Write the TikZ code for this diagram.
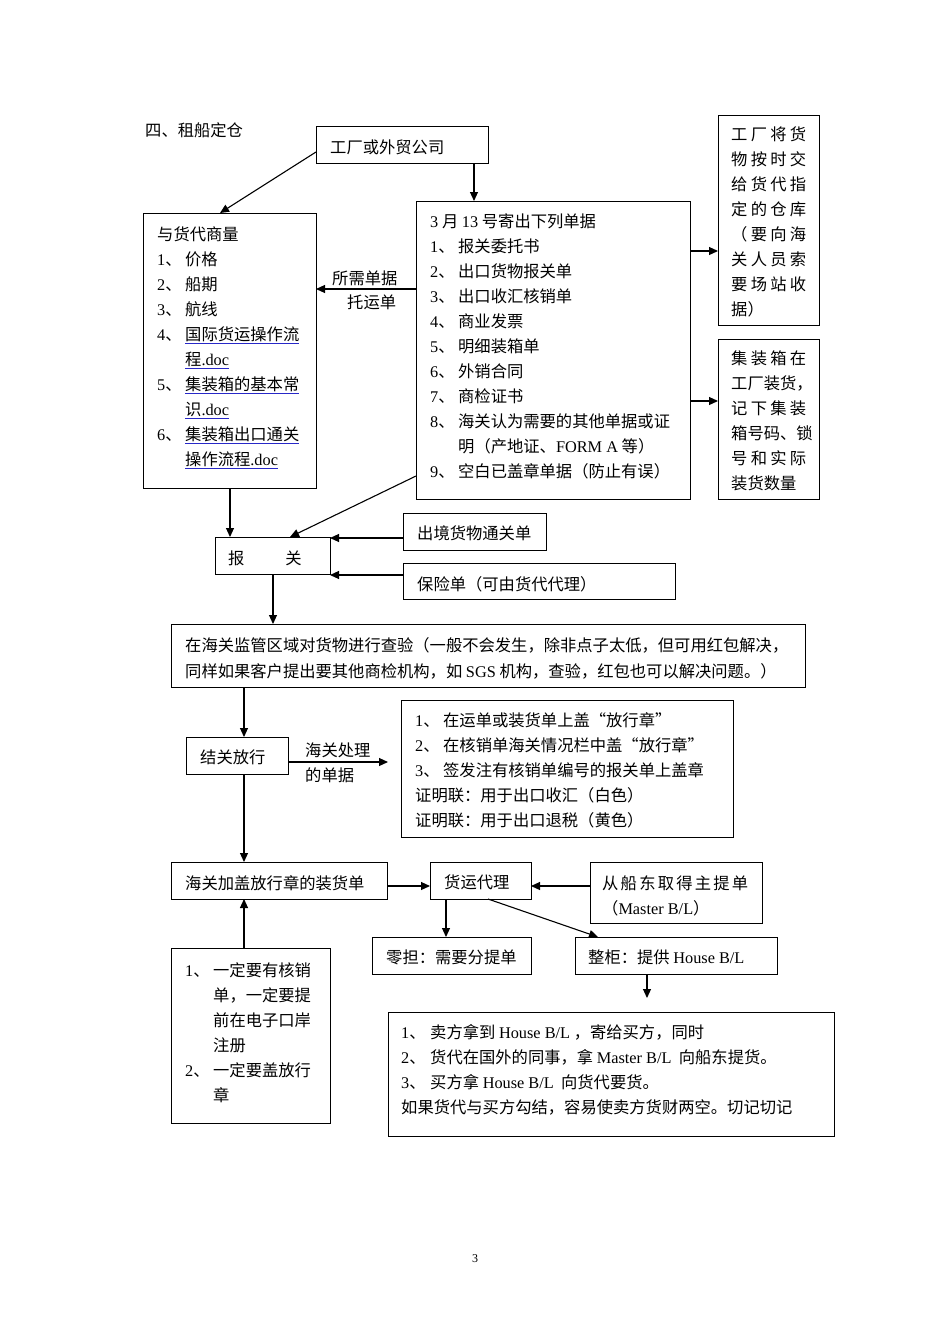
\documentclass[tikz,border=0pt]{standalone}
\usepackage{fontspec}
\setmainfont{Noto Sans CJK SC}
\newfontfamily\latf{Liberation Serif}
\usetikzlibrary{arrows.meta,shadows}
\definecolor{linkblue}{RGB}{40,40,200}
\newcommand\lt[1]{{\latf #1}}
\newcommand\nm[1]{\makebox[28pt][l]{\lt{#1}、}}
\newbox\lnkbox
\newcommand\lnk[1]{\setbox\lnkbox=\hbox{#1}\rlap{\color{linkblue}\rule[-2.5pt]{\wd\lnkbox}{0.8pt}}\box\lnkbox}
\newcommand\spr[2][75pt]{\makebox[#1][s]{#2}}
\newcommand\bx[5]{\node[box, minimum width={#4-#2}, minimum height={#5-#3}] (#1) at (#2,#3) {};}
\begin{document}
\begin{tikzpicture}[x=1pt,y=-1pt,
  font=\fontsize{16.3}{25}\selectfont,
  box/.style={draw, line width=1pt, fill=white, inner sep=0pt, outer sep=0pt, anchor=north west,
    drop shadow={shadow xshift=1.3pt, shadow yshift=-1.3pt, opacity=1, fill=black}},
  arr/.style={-{Triangle[length=9pt,width=8pt]}, line width=1.1pt},
  txt/.style={inner sep=0pt, anchor=north west, align=left, yshift=-2pt}]
\fill[white] (0,0) rectangle (950,1344);
\useasboundingbox (0,0) rectangle (950,1344);

% boxes
\bx{A}{316}{126}{488}{163}
\bx{B}{143}{213}{316}{488}
\bx{C}{416}{201}{690}{499}
\bx{D}{718}{115}{819}{325}
\bx{E}{718}{339}{819}{499}
\bx{F}{215}{537}{330}{574}
\bx{G}{403}{513}{546}{550}
\bx{H}{403}{563}{675}{599}
\bx{I}{171}{624}{805}{687}
\bx{J}{186}{737}{288}{774}
\bx{K}{401}{700}{733}{837}
\bx{L}{171}{862}{387}{899}
\bx{M}{430}{862}{531}{899}
\bx{N}{590}{862}{762}{923}
\bx{O}{372}{937}{531}{974}
\bx{P}{575}{937}{777}{974}
\bx{Q}{388}{1012}{834}{1136}
\bx{R}{171}{948}{330}{1123}

% texts
\node[txt] (title) at (145,120) {四、租船定仓};
\node[txt] (At) at (330,138) {工厂或外贸公司};
\node[txt] (Bt) at (157,225) {与货代商量\\
\nm{1}价格\\
\nm{2}船期\\
\nm{3}航线\\
\nm{4}\lnk{国际货运操作流}\\
\hspace*{28pt}\lnk{程\lt{.doc}}\\
\nm{5}\lnk{集装箱的基本常}\\
\hspace*{28pt}\lnk{识\lt{.doc}}\\
\nm{6}\lnk{集装箱出口通关}\\
\hspace*{28pt}\lnk{操作流程\lt{.doc}}};
\node[txt] (Ct) at (430,212) {\lt{3} 月 \lt{13} 号寄出下列单据\\
\nm{1}报关委托书\\
\nm{2}出口货物报关单\\
\nm{3}出口收汇核销单\\
\nm{4}商业发票\\
\nm{5}明细装箱单\\
\nm{6}外销合同\\
\nm{7}商检证书\\
\nm{8}海关认为需要的其他单据或证\\
\hspace*{28pt}明（产地证、\lt{FORM A} 等）\\
\nm{9}空白已盖章单据（防止有误）};
\node[txt] (Dt) at (731,125) {\spr{工\hfill 厂\hfill 将\hfill 货}\\
\spr{物\hfill 按\hfill 时\hfill 交}\\
\spr{给\hfill 货\hfill 代\hfill 指}\\
\spr{定\hfill 的\hfill 仓\hfill 库}\\
\spr{（\hfill 要\hfill 向\hfill 海}\\
\spr{关\hfill 人\hfill 员\hfill 索}\\
\spr{要\hfill 场\hfill 站\hfill 收}\\
据）};
\node[txt] (Et) at (731,349) {\spr{集\hfill 装\hfill 箱\hfill 在}\\
\spr{工\hfill 厂\hfill 装\hfill 货，}\\
\spr{记\hfill 下\hfill 集\hfill 装}\\
\spr{箱\hfill 号\hfill 码、锁}\\
\spr{号\hfill 和\hfill 实\hfill 际}\\
装货数量};
\node[txt] (Ft) at (228,549) {报\hspace{41pt}关};
\node[txt] (Gt) at (417,524) {出境货物通关单};
\node[txt] (Ht) at (417,574) {保险单（可由货代代理）};
\node[txt, font=\fontsize{16.3}{26}\selectfont] (It) at (185,635) {在海关监管区域对货物进行查验（一般不会发生，除非点子太低，但可用红包解决，\\
同样如果客户提出要其他商检机构，如 \lt{SGS} 机构，查验，红包也可以解决问题。）};
\node[txt] (Jt) at (200,748) {结关放行};
\node[txt] (Kt) at (415,710) {\nm{1}在运单或装货单上盖“放行章”\\
\nm{2}在核销单海关情况栏中盖“放行章”\\
\nm{3}签发注有核销单编号的报关单上盖章\\
证明联：用于出口收汇（白色）\\
证明联：用于出口退税（黄色）};
\node[txt] (Lt) at (185,873) {海关加盖放行章的装货单};
\node[txt] (Mt) at (444,873) {货运代理};
\node[txt] (Nt) at (602,873) {\spr[146pt]{从\hfill 船\hfill 东\hfill 取\hfill 得\hfill 主\hfill 提\hfill 单}\\
（\lt{Master B/L}）};
\node[txt] (Ot) at (386,948) {零担：需要分提单};
\node[txt] (Pt) at (588,948) {整柜：提供 \lt{House B/L}};
\node[txt] (Qt) at (401,1022) {\makebox[29pt][l]{\lt{1}、}卖方拿到 \lt{House B/L} ，寄给买方，同时\\
\makebox[29pt][l]{\lt{2}、}货代在国外的同事，拿 \lt{Master B/L}\ \ 向船东提货。\\
\makebox[29pt][l]{\lt{3}、}买方拿 \lt{House B/L}\ \ 向货代要货。\\
如果货代与买方勾结，容易使卖方货财两空。切记切记};
\node[txt] (Rt) at (185,960) {\nm{1}一定要有核销\\
\hspace*{28pt}单，一定要提\\
\hspace*{28pt}前在电子口岸\\
\hspace*{28pt}注册\\
\nm{2}一定要盖放行\\
\hspace*{28pt}章};
\node[txt] (l1) at (332,269) {所需单据};
\node[txt] (l2) at (347,293) {托运单};
\node[txt] (l3) at (305,741) {海关处理};
\node[txt] (l4) at (305,766) {的单据};
\node[inner sep=0pt, font=\fontsize{12}{14}\selectfont] (pg) at (475,1259) {\lt{3}};

% free ends
\coordinate (jk) at (388,762);
\coordinate (pq) at (647,998);

% connectors
\draw[arr] (A.south -| 474,0) -- (C.north -| 474,0);
\draw[arr] (A.west |- 0,152) -- (B.north -| 220,0);
\draw[arr] (C.west |- 0,289) -- (B.east |- 0,289);
\draw[arr] (C.east |- 0,251) -- (D.west |- 0,251);
\draw[arr] (C.east |- 0,401) -- (E.west |- 0,401);
\draw[arr] (B.south -| 230,0) -- (F.north -| 230,0);
\draw[arr] (C.west |- 0,476) -- (F.north -| 290,0);
\draw[arr] (G.west |- 0,538) -- (F.east |- 0,538);
\draw[arr] (H.west |- 0,575) -- (F.east |- 0,575);
\draw[arr] (F.south -| 273,0) -- (I.north -| 273,0);
\draw[arr] (I.south -| 244,0) -- (J.north -| 244,0);
\draw[arr] (J.east |- 0,762) -- (jk);
\draw[arr] (J.south -| 244,0) -- (L.north -| 244,0);
\draw[arr] (L.east |- 0,886) -- (M.west |- 0,886);
\draw[arr] (N.west |- 0,886) -- (M.east |- 0,886);
\draw[arr] (M.south -| 446,0) -- (O.north -| 446,0);
\draw[arr] (M.south -| 488,0) -- (P.north -| 598,0);
\draw[arr] (P.south -| 647,0) -- (pq);
\draw[arr] (R.north -| 244,0) -- (L.south -| 244,0);
\end{tikzpicture}
\end{document}
